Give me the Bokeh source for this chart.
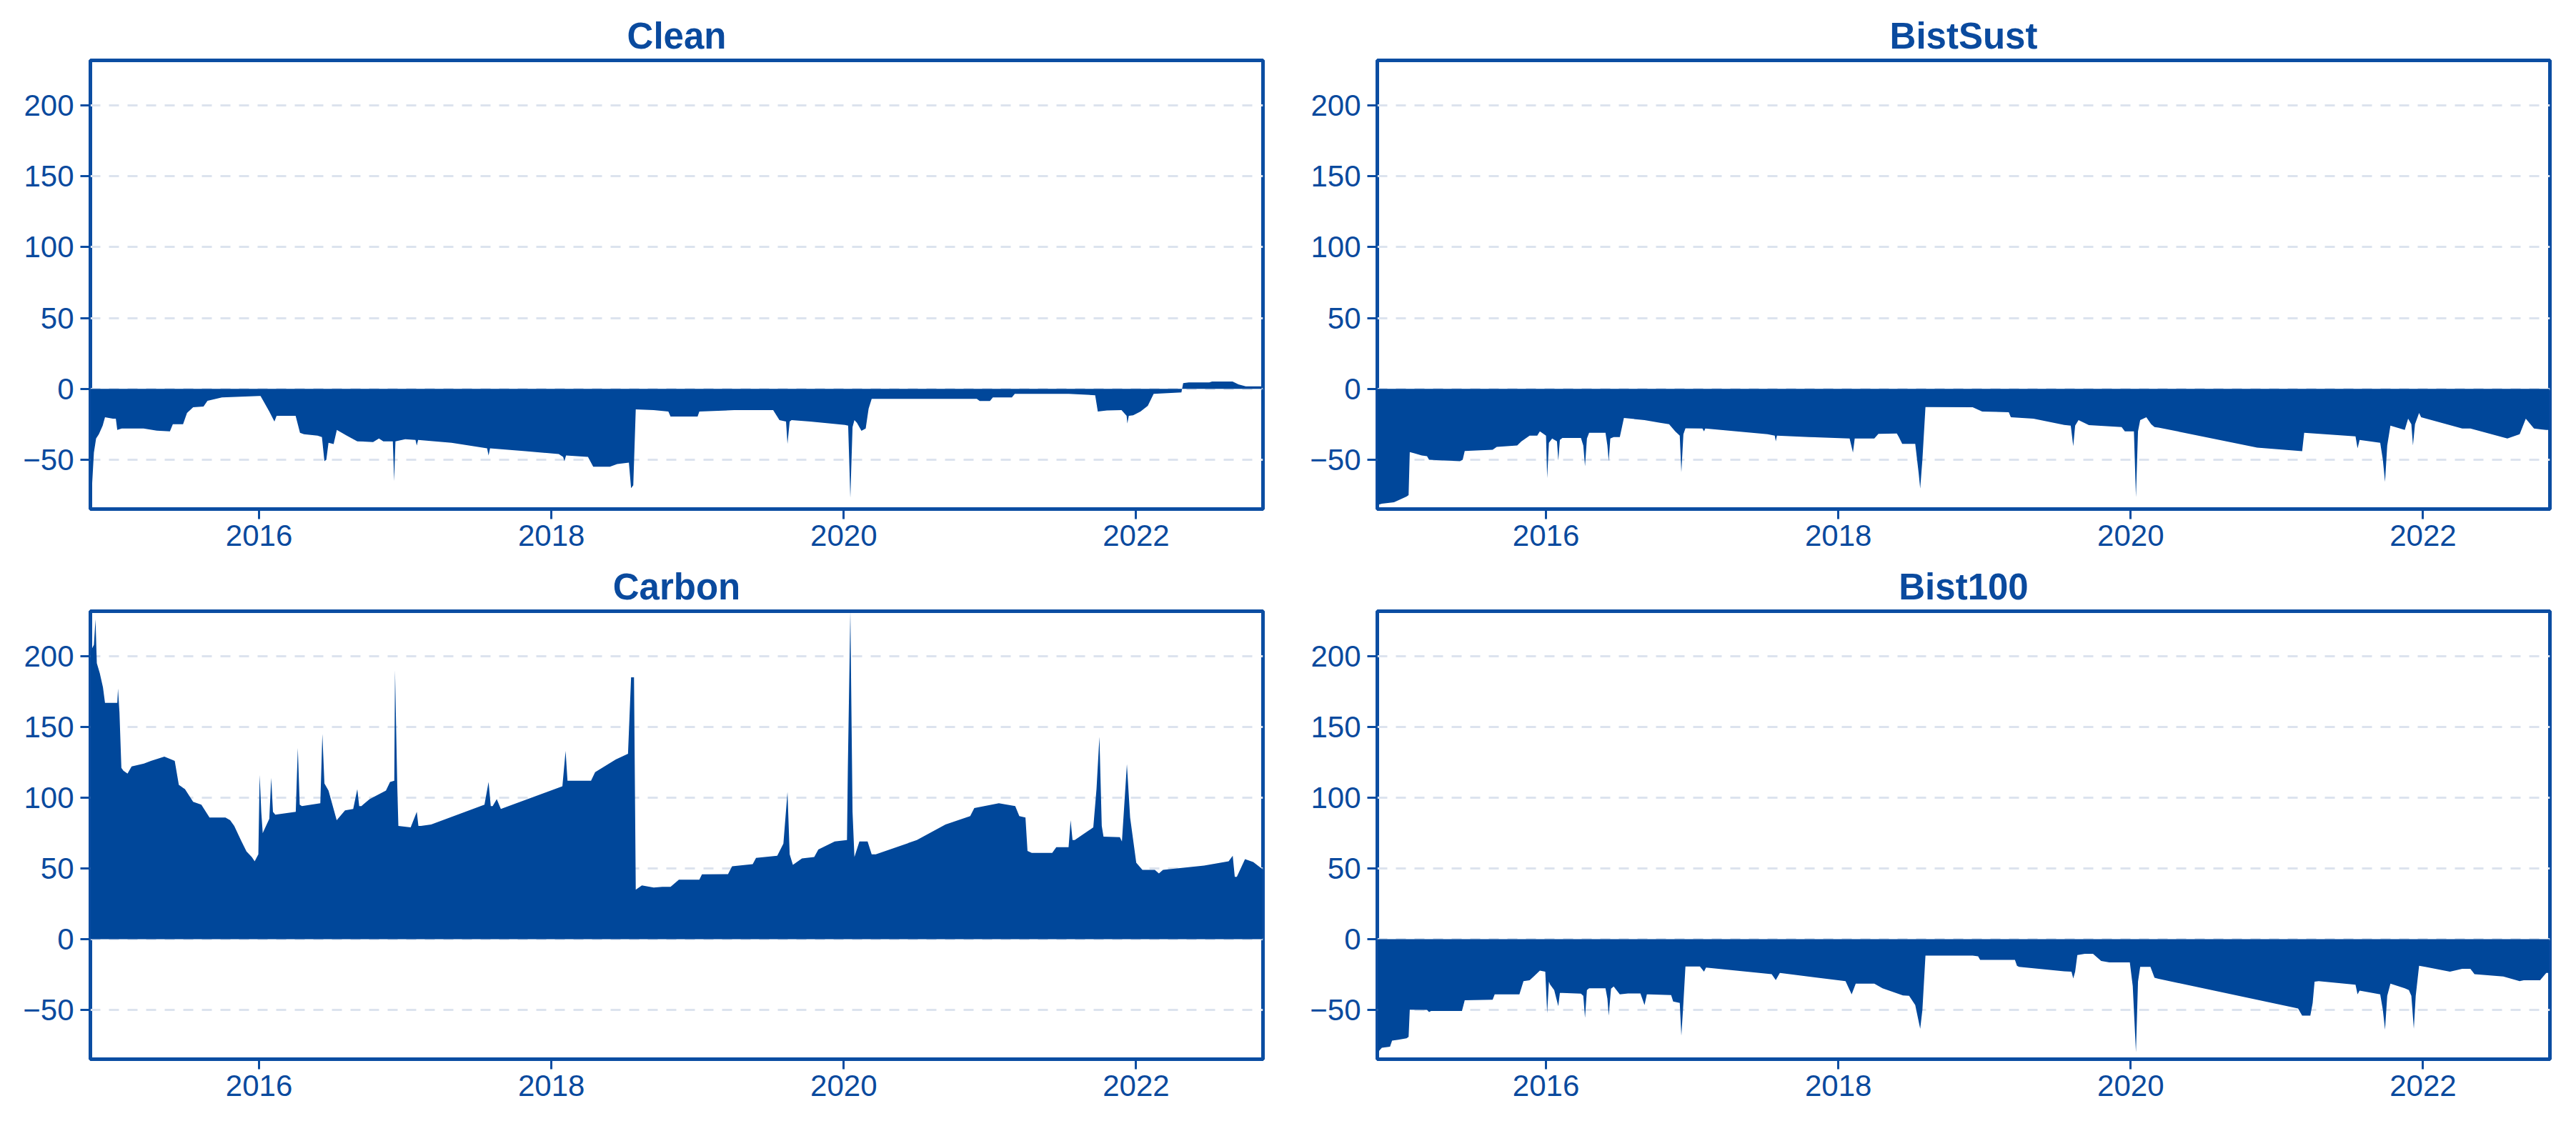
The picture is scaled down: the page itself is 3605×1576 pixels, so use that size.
from bokeh.plotting import figure
from bokeh.models import Range1d, FixedTicker, ColumnDataSource
from bokeh.layouts import column, row
from bokeh.embed import file_html
from bokeh.resources import INLINE

# ---------------- data (decimal years, values) ----------------
titles = ["Clean", "BistSust", "Carbon", "Bist100"]
year_ticks = [2016, 2018, 2020, 2022]
value_ticks = [-50, 0, 50, 100, 150, 200]

clean_t = [2014.846, 2014.852, 2014.870, 2014.885, 2014.904, 2014.93, 2014.946, 2015.0, 2015.02, 2015.03,
           2015.06, 2015.21, 2015.30, 2015.39, 2015.41, 2015.48, 2015.507, 2015.549, 2015.62, 2015.647,
           2015.746, 2015.998, 2016.01, 2016.026, 2016.07, 2016.105, 2016.12, 2016.25, 2016.28, 2016.307,
           2016.40, 2016.43, 2016.447, 2016.46, 2016.475, 2016.51, 2016.532, 2016.60, 2016.672, 2016.78,
           2016.82, 2016.85, 2016.915, 2016.924, 2016.933, 2017.0, 2017.07, 2017.079, 2017.088, 2017.317,
           2017.56, 2017.57, 2017.58, 2017.823, 2018.05, 2018.08, 2018.089, 2018.10, 2018.25, 2018.286,
           2018.40, 2018.45, 2018.53, 2018.545, 2018.56, 2018.577, 2018.70, 2018.80, 2018.815, 2019.0,
           2019.012, 2019.25, 2019.517, 2019.56, 2019.605, 2019.615, 2019.63, 2019.643, 2019.77, 2020.008,
           2020.03, 2020.045, 2020.06, 2020.073, 2020.09, 2020.121, 2020.15, 2020.17, 2020.191, 2020.91,
           2020.93, 2021.0, 2021.02, 2021.15, 2021.17, 2021.54, 2021.72, 2021.738, 2021.80, 2021.90,
           2021.935, 2021.94, 2021.95, 2021.98, 2022.03, 2022.08, 2022.12, 2022.31, 2022.322, 2022.36,
           2022.50, 2022.52, 2022.66, 2022.70, 2022.75, 2022.858, 2022.865]
clean_v = [-80, -78, -45, -35, -32, -26, -20, -21, -21, -29,
           -28, -28, -29.5, -30, -25, -25, -17, -13, -12.5, -8.5,
           -6, -5, -5, -8, -16, -23, -19, -19, -31, -32,
           -33, -34, -51, -50, -38, -39, -29, -33, -37, -37.5,
           -35, -37, -37, -65, -37, -35.5, -36, -40, -36, -38,
           -42, -47, -42, -44, -46, -48, -51, -47, -48, -55,
           -55, -53, -52, -70, -68, -14.5, -15, -16, -19.5, -19.5,
           -16, -15, -15, -22, -23, -38.8, -23, -22, -23, -25.5,
           -26, -77, -27, -22, -24, -29.6, -28, -14, -7, -7,
           -8.6, -8.6, -6, -6, -3.5, -3.5, -4.5, -16, -15.3, -15,
           -19, -24.5, -19, -18.6, -16, -12, -3.5, -2.5, 4, 4.5,
           4.5, 5.2, 5.2, 3.2, 1.8, 1.8, -15]

bistsust_t = [2014.843, 2014.877, 2014.96, 2015.046, 2015.06, 2015.068, 2015.10, 2015.15, 2015.186, 2015.20,
              2015.30, 2015.411, 2015.43, 2015.444, 2015.635, 2015.663, 2015.803, 2015.832, 2015.888, 2015.94,
              2015.958, 2015.986, 2016.0, 2016.008, 2016.02, 2016.042, 2016.075, 2016.084, 2016.095, 2016.112,
              2016.239, 2016.255, 2016.267, 2016.28, 2016.295, 2016.407, 2016.42, 2016.429, 2016.44, 2016.463,
              2016.505, 2016.533, 2016.674, 2016.78, 2016.842, 2016.884, 2016.915, 2016.926, 2016.94, 2016.954,
              2017.07, 2017.081, 2017.09, 2017.516, 2017.565, 2017.572, 2017.58, 2017.80, 2018.077, 2018.1,
              2018.112, 2018.246, 2018.274, 2018.40, 2018.414, 2018.437, 2018.526, 2018.55, 2018.56, 2018.575,
              2018.596, 2018.919, 2018.984, 2019.166, 2019.18, 2019.335, 2019.545, 2019.59, 2019.607, 2019.62,
              2019.643, 2019.714, 2019.938, 2019.96, 2020.022, 2020.036, 2020.05, 2020.065, 2020.107, 2020.14,
              2020.163, 2020.191, 2020.865, 2021.173, 2021.187, 2021.538, 2021.552, 2021.566, 2021.707, 2021.725,
              2021.74, 2021.755, 2021.777, 2021.875, 2021.898, 2021.92, 2021.931, 2021.945, 2021.973, 2021.987,
              2022.268, 2022.324, 2022.577, 2022.661, 2022.703, 2022.759, 2022.843, 2022.864]
bistsust_v = [-82, -81, -80, -76, -75, -44.6, -45.5, -47, -47.5, -50,
              -50.5, -51, -50, -43.8, -43, -41, -40, -37, -33, -33,
              -30, -32, -33, -63, -38, -35, -37, -50.5, -36, -34.6,
              -34.6, -40, -54.7, -35, -31, -31, -40, -51, -35, -34,
              -34, -20.6, -22, -24, -25, -30, -33, -59, -32, -27.8,
              -28, -30, -28, -32, -33, -37, -33, -34, -35, -45,
              -35, -35, -31.7, -31.5, -34, -38.8, -38.8, -60, -70.3, -50,
              -12.8, -13, -16, -16.5, -20, -21, -25.5, -26, -40.4, -26,
              -22, -25.6, -27, -30, -30, -76.5, -30, -22, -20, -25,
              -27, -27.3, -41.5, -44, -31, -33.5, -42, -36, -38, -50,
              -65.6, -40, -26, -29, -21, -25, -40, -25, -17, -20,
              -28, -28, -35, -32, -21, -28, -29, -29]

carbon_t = [2014.846, 2014.87, 2014.881, 2014.89, 2014.91, 2014.932, 2014.946, 2015.03, 2015.035, 2015.045,
            2015.058, 2015.072, 2015.1, 2015.128, 2015.212, 2015.26, 2015.352, 2015.40, 2015.423, 2015.451,
            2015.493, 2015.549, 2015.605, 2015.661, 2015.77, 2015.802, 2015.830, 2015.88, 2015.914, 2015.95,
            2015.97, 2015.995, 2016.004, 2016.015, 2016.025, 2016.07, 2016.083, 2016.095, 2016.111, 2016.251,
            2016.265, 2016.278, 2016.293, 2016.419, 2016.433, 2016.447, 2016.475, 2016.531, 2016.588, 2016.644,
            2016.672, 2016.685, 2016.70, 2016.756, 2016.868, 2016.896, 2016.925, 2016.93, 2016.945, 2016.953,
            2017.037, 2017.079, 2017.09, 2017.107, 2017.177, 2017.542, 2017.57, 2017.585, 2017.598, 2017.626,
            2017.654, 2018.075, 2018.097, 2018.11, 2018.271, 2018.299, 2018.44, 2018.524, 2018.545, 2018.565,
            2018.577, 2018.619, 2018.70, 2018.759, 2018.815, 2018.872, 2019.012, 2019.03, 2019.208, 2019.236,
            2019.377, 2019.40, 2019.545, 2019.587, 2019.615, 2019.63, 2019.652, 2019.714, 2019.798, 2019.826,
            2019.938, 2020.022, 2020.028, 2020.045, 2020.06, 2020.073, 2020.107, 2020.163, 2020.191, 2020.219,
            2020.5, 2020.696, 2020.865, 2020.893, 2021.061, 2021.173, 2021.201, 2021.243, 2021.257, 2021.286,
            2021.426, 2021.454, 2021.538, 2021.552, 2021.565, 2021.58, 2021.707, 2021.729, 2021.749, 2021.765,
            2021.777, 2021.889, 2021.903, 2021.937, 2021.959, 2022.001, 2022.043, 2022.128, 2022.156, 2022.184,
            2022.465, 2022.633, 2022.661, 2022.675, 2022.689, 2022.745, 2022.801, 2022.858, 2022.865]
carbon_v = [203, 208, 226, 195, 188, 178, 167, 167, 177, 160,
            121, 119, 117, 122, 124, 126, 129, 127, 126, 109,
            106, 97, 95, 86, 86, 84, 80, 69, 62, 58,
            55, 60, 116, 90, 75, 85, 114, 90, 88, 90,
            135, 95, 94, 96, 145, 110, 105, 84, 91, 92,
            106, 94, 94, 99, 105, 111, 112, 190, 110, 80,
            79, 90, 80, 80, 81, 95, 111, 94, 94, 99,
            92, 108, 133, 112, 112, 118, 127, 131, 185, 185,
            35, 38, 36.5, 37, 37, 42, 42, 45.8, 46, 51.5,
            53, 57.4, 59, 67.5, 104, 60, 52.5, 57, 58, 63.3,
            69, 70, 121, 232, 90, 58, 69, 69, 60, 60,
            70, 81, 87, 92.6, 96, 94, 87, 86, 62.4, 61,
            61, 65, 65, 84, 70, 70, 79, 106, 143, 80,
            72.5, 72, 69, 123.7, 86, 54, 49, 49, 46.5, 49,
            52, 55, 59, 44, 44, 56.6, 54.5, 50, 50]

bist100_t = [2014.849, 2014.877, 2014.933, 2014.947, 2014.99, 2015.046, 2015.06, 2015.068, 2015.186, 2015.2,
             2015.214, 2015.425, 2015.444, 2015.635, 2015.649, 2015.818, 2015.846, 2015.888, 2015.916, 2015.958,
             2015.995, 2016.008, 2016.02, 2016.028, 2016.056, 2016.084, 2016.095, 2016.112, 2016.239, 2016.255,
             2016.267, 2016.28, 2016.295, 2016.407, 2016.42, 2016.429, 2016.445, 2016.463, 2016.505, 2016.561,
             2016.646, 2016.674, 2016.69, 2016.702, 2016.856, 2016.87, 2016.915, 2016.926, 2016.94, 2016.954,
             2017.053, 2017.081, 2017.095, 2017.544, 2017.572, 2017.6, 2018.049, 2018.091, 2018.119, 2018.246,
             2018.302, 2018.442, 2018.484, 2018.526, 2018.56, 2018.575, 2018.596, 2018.919, 2018.956, 2018.97,
             2019.208, 2019.222, 2019.236, 2019.545, 2019.595, 2019.607, 2019.62, 2019.635, 2019.686, 2019.742,
             2019.798, 2019.854, 2019.994, 2020.014, 2020.036, 2020.05, 2020.065, 2020.135, 2020.163, 2020.191,
             2021.145, 2021.173, 2021.229, 2021.245, 2021.258, 2021.286, 2021.538, 2021.552, 2021.566, 2021.707,
             2021.725, 2021.74, 2021.755, 2021.777, 2021.875, 2021.903, 2021.92, 2021.937, 2021.95, 2021.973,
             2022.015, 2022.184, 2022.268, 2022.324, 2022.352, 2022.549, 2022.661, 2022.689, 2022.801, 2022.843,
             2022.864]
bist100_v = [-80, -76.7, -76, -71.7, -71, -70, -69, -49.8, -50, -51.5,
             -50.7, -50.7, -43.1, -42.8, -39, -39, -29.7, -29, -26.4, -22.2,
             -23, -52.4, -30, -32, -36, -47.3, -38, -38, -38.5, -40,
             -55.7, -36, -34.7, -34.7, -42, -54, -35, -33.4, -39, -38.4,
             -38.4, -46.5, -39, -39, -39.5, -44, -45, -68.3, -45, -19.3,
             -19.3, -23, -20, -24.7, -28.9, -23.8, -29.7, -39, -31.4, -31.4,
             -34.7, -39.8, -40, -46.5, -63.3, -50, -11.6, -11.6, -12.1, -14.6,
             -14.6, -18.8, -19.6, -22.7, -23, -27.7, -23, -11.2, -10.4, -10.4,
             -15.4, -16.4, -16.4, -33, -80, -30, -19.6, -19.6, -27.2, -28,
             -49, -54, -54, -45, -30, -29.7, -32.2, -39, -36.4, -39,
             -50, -64, -40, -31.4, -34.7, -36, -40, -63.3, -40, -18.8,
             -19.6, -23, -21, -21, -24.7, -26.4, -29.7, -29, -29, -23.8,
             -23.8]

# ---------------- style ----------------
FILL = "#00479A"
LINE = "#0B4DA2"
TEXT = "#0A4A9E"
GRID = "#DCE3EE"
FONT = "Liberation Sans"

X0, X1 = 2014.846, 2022.868
Y0, Y1 = -84.8, 231.7


def panel(title, t, v, width, height, left, right, top, bottom):
    p = figure(width=width, height=height, output_backend="svg", toolbar_location=None,
               x_range=Range1d(X0, X1), y_range=Range1d(Y0, Y1),
               min_border_left=left, min_border_right=right,
               min_border_top=top, min_border_bottom=bottom,
               background_fill_color="white", border_fill_color="white")
    p.title.text = title
    p.title.align = "center"
    p.title.text_font = FONT
    p.title.text_font_style = "bold"
    p.title.text_font_size = "51px"
    p.title.text_color = TEXT
    p.title.standoff = 12

    src = ColumnDataSource(dict(t=t, v=v))
    p.varea(x="t", y1=0, y2="v", source=src, fill_color=FILL, fill_alpha=1.0)

    p.outline_line_color = LINE
    p.outline_line_width = 5
    p.outline_line_alpha = 1.0

    p.xgrid.visible = False
    p.ygrid.grid_line_color = GRID
    p.ygrid.grid_line_width = 3
    p.ygrid.grid_line_dash = "14 12"
    p.ygrid.level = "underlay"

    p.xaxis.ticker = FixedTicker(ticks=year_ticks)
    p.yaxis.ticker = FixedTicker(ticks=value_ticks)
    for ax in (p.xaxis[0], p.yaxis[0]):
        ax.axis_line_color = None
        ax.major_tick_line_color = LINE
        ax.major_tick_line_width = 3
        ax.major_tick_out = 14
        ax.major_tick_in = 0
        ax.minor_tick_line_color = None
        ax.major_label_text_font = FONT
        ax.major_label_text_font_size = "42px"
        ax.major_label_text_color = TEXT
    p.xaxis.major_label_standoff = 8
    p.yaxis.major_label_standoff = 9
    return p


p1 = panel(titles[0], clean_t, clean_v, 1809, 783, 126, 42, 84, 71)
p2 = panel(titles[1], bistsust_t, bistsust_v, 1789, 783, 118, 30, 84, 71)
p3 = panel(titles[2], carbon_t, carbon_v, 1809, 769, 126, 42, 72, 70)
p4 = panel(titles[3], bist100_t, bist100_v, 1789, 769, 118, 30, 72, 70)

layout = column(row(p1, p2), row(p3, p4))

open("out.html", "w").write(file_html(layout, INLINE))
